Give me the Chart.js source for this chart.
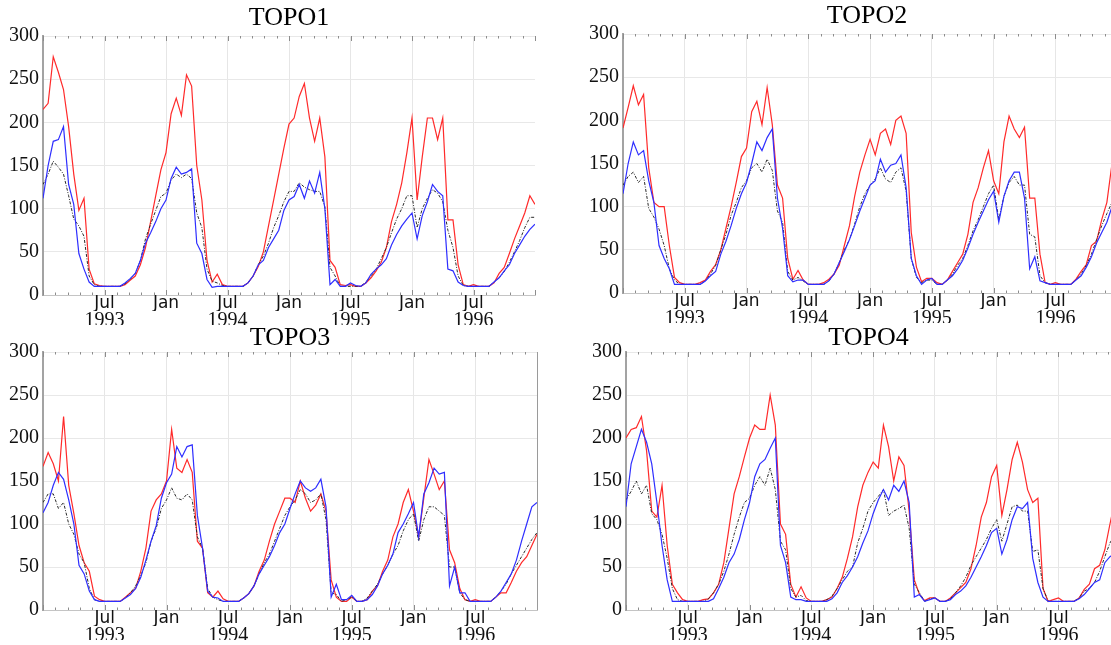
<!DOCTYPE html>
<html>
<head>
<meta charset="utf-8">
<script src="https://cdn.jsdelivr.net/npm/chart.js@4.4.0/dist/chart.umd.min.js"></script>
<style>
  html, body { margin: 0; padding: 0; background: #fff; }
  #wrap { position: relative; width: 1111px; height: 645px; overflow: hidden; }
  canvas { position: absolute; left: 0; top: 0; }
</style>
</head>
<body>
<div id="wrap">
  <canvas id="topo1" width="1111" height="645"></canvas>
  <canvas id="topo2" width="1111" height="645"></canvas>
  <canvas id="topo3" width="1111" height="645"></canvas>
  <canvas id="topo4" width="1111" height="645"></canvas>
</div>
<script>
// months since Jan 1993, twice a month
const months = [
  0,0.5,1,1.5,2,2.5,3,3.5,4,4.5,5,5.5,
  6,6.5,7,7.5,8,8.5,9,9.5,10,10.5,11,11.5,
  12,12.5,13,13.5,14,14.5,15,15.5,16,16.5,17,17.5,
  18,18.5,19,19.5,20,20.5,21,21.5,22,22.5,23,23.5,
  24,24.5,25,25.5,26,26.5,27,27.5,28,28.5,29,29.5,
  30,30.5,31,31.5,32,32.5,33,33.5,34,34.5,35,35.5,
  36,36.5,37,37.5,38,38.5,39,39.5,40,40.5,41,41.5,
  42,42.5,43,43.5,44,44.5,45,45.5,46,46.5,47,47.5,48];

const monthTicks = ['Jul', 'Jan', 'Jul', 'Jan', 'Jul', 'Jan', 'Jul'];
const yearTicks = ['1993', '1994', '1995', '1996'];

// TOPO1
const red1 = [
  215,222,276,258,238,195,140,98,112,30,13,11,
  10,10,10,10,12,17,22,35,55,85,115,145,
  165,210,228,208,255,242,150,110,40,15,24,12,
  10,10,10,10,14,22,33,50,80,110,140,170,
  198,205,230,245,205,178,205,160,40,32,12,11,
  12,10,10,14,20,28,38,55,85,105,130,165,
  205,110,160,205,205,180,205,87,87,35,12,10,
  12,10,10,10,14,25,32,48,65,80,95,115,105];
const blue1 = [
  112,150,178,180,195,128,105,48,30,15,10,10,
  10,10,10,10,14,19,25,40,60,72,85,100,
  110,135,148,140,142,146,60,48,18,9,10,10,
  10,10,10,10,14,22,35,40,55,65,75,98,
  110,114,128,112,132,118,142,100,12,18,10,10,
  14,11,10,14,24,30,35,42,58,70,80,88,
  95,65,92,108,128,120,115,30,28,15,11,10,
  10,10,10,10,15,20,28,35,48,58,68,76,82];
const black1 = [
  128,140,155,148,140,115,88,80,68,22,12,10,
  10,10,10,10,13,18,25,40,65,82,98,114,
  118,133,140,136,140,135,95,78,30,16,14,11,
  10,10,10,10,14,22,35,45,60,78,92,108,
  120,120,130,125,122,120,120,102,32,22,10,10,
  10,10,10,15,22,30,42,55,72,88,100,115,
  115,78,100,112,122,118,108,75,55,22,11,10,
  10,10,10,10,15,20,27,38,50,63,78,90,90];

// TOPO2
const red2 = [
  191,215,240,218,230,145,105,100,100,55,18,12,
  10,10,10,12,15,25,33,50,75,100,128,158,
  168,210,222,195,238,195,125,110,40,16,26,15,
  10,10,10,12,16,22,32,55,78,112,140,160,
  178,160,185,190,172,200,205,185,70,30,13,17,
  17,12,10,15,25,35,45,68,105,122,145,165,
  130,115,175,205,190,180,192,110,110,45,12,10,
  12,10,10,10,16,25,33,55,60,85,105,150,190];
const blue2 = [
  115,150,175,160,165,130,105,55,40,28,10,10,
  10,10,10,10,14,20,25,45,60,78,98,115,
  128,150,175,165,180,190,110,75,20,13,15,15,
  10,10,10,10,14,22,35,48,62,78,95,110,
  125,130,155,140,148,150,160,122,40,20,10,15,
  17,10,10,15,20,28,38,52,68,82,95,108,
  118,82,112,130,140,140,110,28,42,14,12,10,
  10,10,10,10,15,20,30,42,58,70,82,100,115];
const black2 = [
  125,135,140,128,135,98,88,74,55,28,15,10,
  10,10,10,10,14,22,32,50,68,90,105,122,
  130,145,150,140,155,142,95,82,25,15,18,14,
  10,10,10,10,14,22,35,50,62,80,100,115,
  125,132,145,132,128,140,145,118,40,18,12,15,
  15,10,10,15,22,32,40,55,72,85,100,115,
  125,85,112,128,135,125,125,68,65,20,12,10,
  10,10,10,10,15,22,32,45,62,78,92,105,115];

// TOPO3
const red3 = [
  167,183,170,150,225,145,112,75,55,45,16,12,
  10,10,10,10,15,20,25,45,72,115,128,135,
  150,210,165,160,175,160,80,72,20,15,22,13,
  10,10,10,14,19,28,45,58,80,100,115,130,
  130,125,150,130,115,122,135,115,35,15,10,10,
  15,10,10,12,22,28,45,58,85,100,125,140,
  115,85,130,175,158,140,150,70,55,25,12,10,
  12,10,10,10,15,20,20,32,45,55,62,75,88];
const blue3 = [
  113,125,145,160,152,128,100,52,42,22,12,10,
  10,10,10,10,14,18,25,38,58,80,98,130,
  148,158,190,178,190,192,110,72,22,15,14,10,
  10,10,10,14,19,28,42,52,62,75,90,100,
  118,135,150,142,138,142,152,120,15,30,12,12,
  17,10,10,12,18,28,42,52,65,90,100,112,
  125,85,135,148,165,158,160,28,50,20,20,10,
  10,10,10,10,15,22,32,42,58,80,100,120,125];
const black3 = [
  125,135,135,118,125,100,88,65,55,25,12,10,
  10,10,10,10,14,20,28,40,55,80,95,118,
  128,142,130,128,135,128,85,72,25,15,12,10,
  10,10,10,14,19,28,42,55,65,80,95,110,
  120,128,140,135,125,128,135,105,20,18,10,12,
  15,10,10,14,22,30,42,52,65,75,92,105,
  112,80,105,120,120,115,110,50,50,20,12,10,
  10,10,10,10,15,22,30,42,52,62,72,82,90];

// TOPO4
const red4 = [
  200,210,212,225,185,115,108,145,75,30,20,12,
  10,10,10,12,13,20,30,55,95,135,155,178,
  200,215,210,210,250,215,100,88,30,15,27,14,
  10,10,10,12,15,25,38,60,85,120,145,160,
  172,165,215,190,150,178,168,115,35,18,11,14,
  14,10,10,14,20,26,32,48,75,108,125,155,
  168,110,140,175,195,172,140,125,130,25,10,12,
  14,10,10,10,14,24,30,48,52,70,100,128,145];
const blue4 = [
  120,170,190,210,195,170,125,75,35,10,10,10,
  10,10,10,10,10,13,25,38,55,65,82,105,
  125,155,170,175,188,200,75,55,15,12,12,10,
  10,10,10,10,13,20,32,40,50,62,78,92,
  112,128,140,128,145,138,150,125,15,18,10,12,
  14,10,10,12,18,22,28,38,50,62,75,90,
  95,65,82,105,120,118,125,60,32,15,10,10,
  10,10,10,10,13,18,25,32,35,55,62,66,68];
const black4 = [
  128,138,150,135,145,112,105,88,60,25,12,10,
  10,10,10,10,13,20,30,45,65,88,108,125,
  130,145,155,145,165,140,80,70,25,15,17,11,
  10,10,10,12,16,25,35,45,50,78,95,115,
  125,132,140,110,115,118,122,95,30,20,10,13,
  14,10,10,13,20,28,38,52,62,72,82,95,
  105,80,100,120,122,115,115,68,70,25,10,10,
  10,10,10,10,14,22,25,32,45,62,78,88,95];

// small ticks on top and bottom edges, optional right frame
const edgeTicks = {
  id: 'edgeTicks',
  afterDraw(chart, args, opts) {
    const ctx = chart.ctx, a = chart.chartArea, xs = chart.scales.x;
    ctx.save();
    ctx.strokeStyle = '#8c8c8c';
    ctx.lineWidth = 1;
    xs.ticks.forEach((t, i) => {
      const px = Math.round(xs.getPixelForValue(t.value)) + 0.5;
      const len = i % 5 === 0 ? 5 : 2.5;
      ctx.beginPath();
      ctx.moveTo(px, a.bottom); ctx.lineTo(px, a.bottom - len);
      ctx.moveTo(px, a.top); ctx.lineTo(px, a.top + len);
      ctx.stroke();
    });
    if (opts.frame) {
      ctx.strokeStyle = '#9a9a9a';
      ctx.beginPath();
      ctx.moveTo(a.right + 0.5, a.top); ctx.lineTo(a.right + 0.5, a.bottom);
      ctx.stroke();
    }
    ctx.restore();
  }
};

function makeChart(id, title, red, blue, black, box) {
  new Chart(document.getElementById(id), {
    type: 'line',
    data: {
      labels: months,
      datasets: [
        { data: blue, borderColor: '#2e2eff', borderWidth: 1.2, pointRadius: 0, tension: 0 },
        { data: black, borderColor: '#2a2a2a', borderWidth: 1, borderDash: [3, 1.5, 1, 1.5], pointRadius: 0, tension: 0 },
        { data: red, borderColor: '#ff2a2a', borderWidth: 1.2, pointRadius: 0, tension: 0 }
      ]
    },
    options: {
      responsive: false,
      animation: false,
      devicePixelRatio: 1,
      events: [],
      layout: { padding: box.pad },
      plugins: {
        legend: { display: false },
        tooltip: { enabled: false },
        title: {
          display: true, text: title, fullSize: false, color: '#000',
          font: { family: 'Liberation Serif', size: 26, weight: 'normal', lineHeight: 1 },
          padding: box.titlePad
        },
        edgeTicks: { frame: box.frame }
      },
      scales: {
        x: {
          type: 'linear', min: 0, max: box.xmax, weight: 0,
          afterBuildTicks: s => {
            const t = [];
            for (let i = 0; i <= 40; i++) if (i * 1.2 <= box.xmax + 0.001) t.push({ value: i * 1.2 });
            s.ticks = t;
          },
          afterFit: s => { s.height = 16; },
          grid: {
            drawTicks: false,
            color: c => (c.index % 5 === 0 && c.index > 0 && c.index < 40) ? '#e6e6e6' : 'rgba(0,0,0,0)'
          },
          border: { color: '#c4c4c4', width: 1 },
          ticks: {
            autoSkip: false, maxRotation: 0, minRotation: 0, padding: 0, color: '#111',
            font: { family: 'DejaVu Sans', size: 17, lineHeight: 1 },
            callback: (v, i) => (i % 5 === 0 && monthTicks[i / 5 - 1]) ? monthTicks[i / 5 - 1] : ''
          }
        },
        x2: {
          type: 'linear', position: 'bottom', min: 0, max: box.xmax, weight: 1,
          afterBuildTicks: s => { s.ticks = yearTicks.map((y, j) => ({ value: 6 + 12 * j })); },
          afterFit: s => { s.height = 14; },
          grid: { display: false, drawTicks: false },
          border: { display: false },
          ticks: {
            autoSkip: false, maxRotation: 0, minRotation: 0, padding: 0, color: '#111',
            font: { family: 'Liberation Serif', size: 20, lineHeight: 1 },
            callback: (v, i) => yearTicks[i]
          }
        },
        y: {
          min: 0, max: 300,
          afterFit: s => { s.width = 43; },
          grid: { drawTicks: false, color: c => c.tick.value === 0 ? 'rgba(0,0,0,0)' : '#e8e8e8' },
          border: { color: '#a3a3a3', width: 2 },
          ticks: {
            stepSize: 50, padding: 4, color: '#111',
            font: { family: 'Liberation Serif', size: 20 }
          }
        }
      }
    },
    plugins: [edgeTicks]
  });
}

makeChart('topo1', 'TOPO1', red1, blue1, black1,
  { pad: { left: 0, right: 576, top: 0, bottom: 320 }, titlePad: { top: 5, bottom: 5 }, xmax: 48, frame: false });
makeChart('topo2', 'TOPO2', red2, blue2, black2,
  { pad: { left: 580, right: 0, top: 0, bottom: 322 }, titlePad: { top: 3, bottom: 5 }, xmax: 47.4, frame: false });
makeChart('topo3', 'TOPO3', red3, blue3, black3,
  { pad: { left: 0, right: 574, top: 316, bottom: 5 }, titlePad: { top: 9, bottom: 1 }, xmax: 48, frame: true });
makeChart('topo4', 'TOPO4', red4, blue4, black4,
  { pad: { left: 583, right: 0, top: 316, bottom: 5 }, titlePad: { top: 9, bottom: 1 }, xmax: 47.1, frame: false });
</script>
</body>
</html>
